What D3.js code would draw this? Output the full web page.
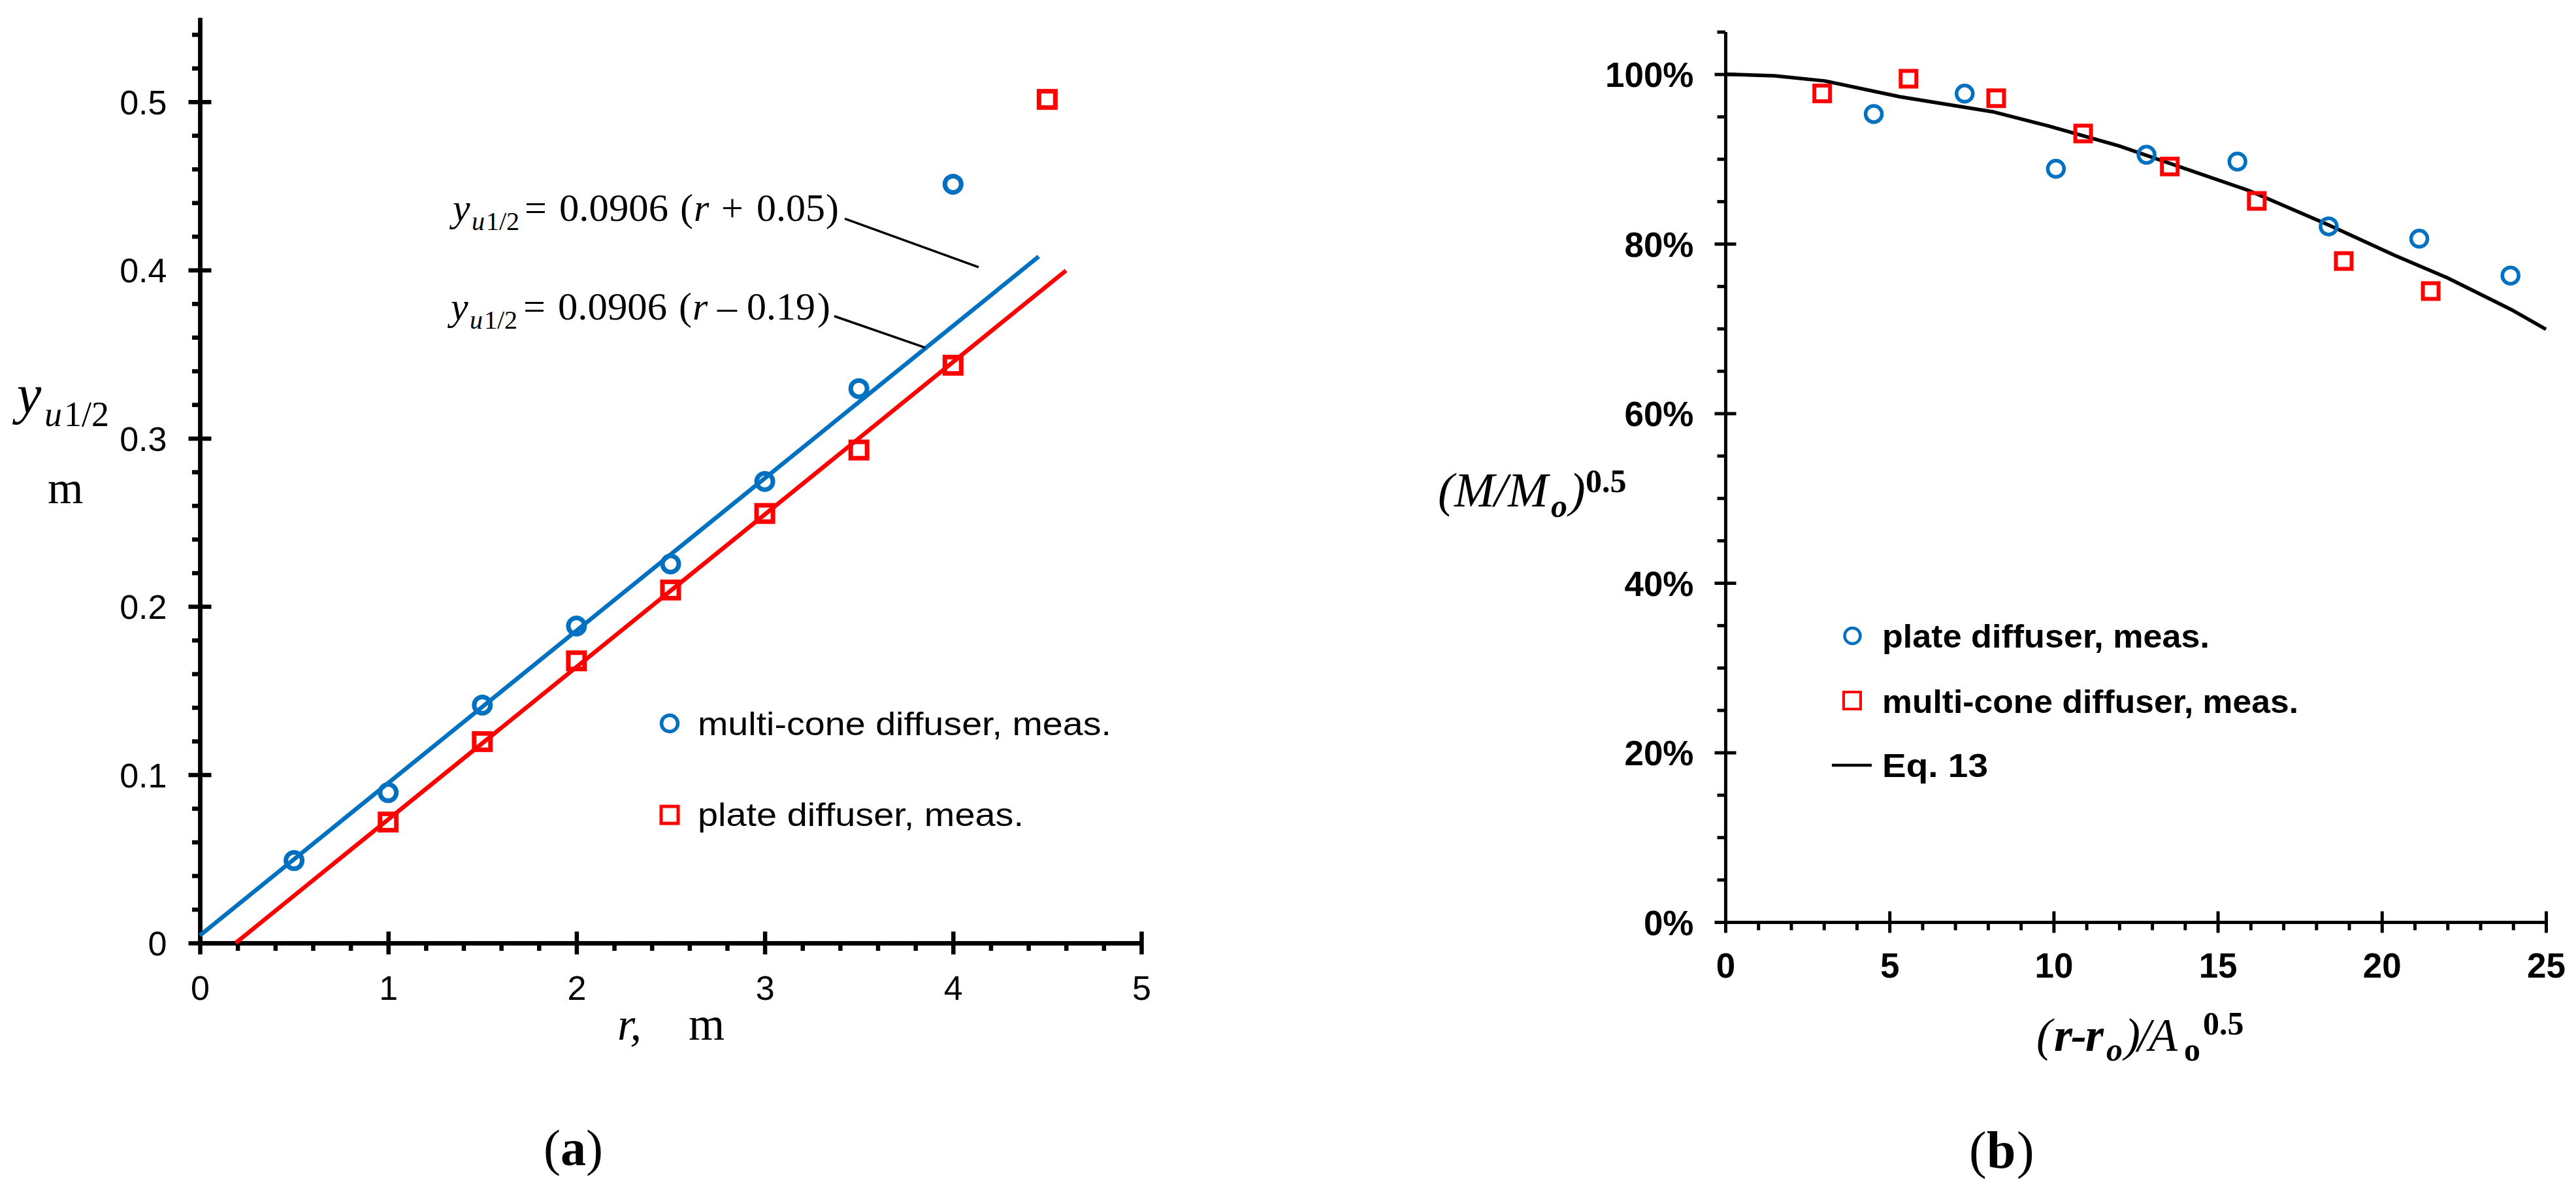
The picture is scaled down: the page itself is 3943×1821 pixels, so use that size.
<!DOCTYPE html>
<html><head><meta charset="utf-8">
<script src="https://cdnjs.cloudflare.com/ajax/libs/d3/7.8.5/d3.min.js"></script>
<style>
html,body{margin:0;padding:0;background:#fff;overflow:hidden}
svg{display:block}
text{fill:#000}
</style></head><body>
<svg id="c" width="3943" height="1821" viewBox="0 0 3943 1821"></svg>
<script>
// ---------- panel (a) data ----------
const aBlueR = [0.5,1,1.5,2,2.5,3,3.5,4];
const aBlueY = [0.049,0.0894,0.1414,0.1884,0.2253,0.2743,0.3295,0.451];
const aRedR  = [1,1.5,2,2.5,3,3.5,4,4.5];
const aRedY  = [0.0719,0.1197,0.1677,0.2098,0.2553,0.293,0.3434,0.5014];
const aBlueFitR = [0,4.455];
const aBlueFitY = [0.0045,0.408];
const aRedFitR  = [0.19,4.6];
const aRedFitY  = [0,0.3997];
const aLeader1R = [3.425,4.136];
const aLeader1Y = [0.4305,0.4017];
const aLeader2R = [3.369,3.851];
const aLeader2Y = [0.3726,0.3539];
const aXMajor = [0,1,2,3,4,5];
const aXMinor = [0.2,0.4,0.6,0.8,1.2,1.4,1.6,1.8,2.2,2.4,2.6,2.8,3.2,3.4,3.6,3.8,4.2,4.4,4.6,4.8];
const aYMajor = [0,0.1,0.2,0.3,0.4,0.5];
const aYMinor = [0.02,0.04,0.06,0.08,0.12,0.14,0.16,0.18,0.22,0.24,0.26,0.28,0.32,0.34,0.36,0.38,0.42,0.44,0.46,0.48,0.52,0.54];
const aLegend = ["multi-cone diffuser, meas.","plate diffuser, meas."];

// ---------- panel (b) data ----------
const bBlueX = [4.52,7.29,10.07,12.83,15.6,18.38,21.14,23.92];
const bBlueY = [0.953,0.977,0.8884,0.9049,0.8969,0.8205,0.8059,0.7625];
const bRedX  = [2.95,5.58,8.25,10.9,13.54,16.19,18.84,21.49];
const bRedY  = [0.9773,0.9946,0.9716,0.93,0.8911,0.8505,0.7796,0.7442];
const bCurveX = [0,1.5,3.03,5.31,8.14,9.85,12,15.97,18.4,20.38,22,23.95,25];
const bCurveY = [1,0.998,0.992,0.9734,0.9557,0.9388,0.9153,0.8624,0.8217,0.7865,0.7597,0.7222,0.6992];
const bXMajor = [0,5,10,15,20,25];
const bXMinor = [1,2,3,4,6,7,8,9,11,12,13,14,16,17,18,19,21,22,23,24];
const bYMajor = [0,0.2,0.4,0.6,0.8,1];
const bYMinor = [0.05,0.1,0.15,0.25,0.3,0.35,0.45,0.5,0.55,0.65,0.7,0.75,0.85,0.9,0.95,1.05];
const bLegend = ["plate diffuser, meas.","multi-cone diffuser, meas.","Eq. 13"];

const BLUE="#0070C0", RED="#FF0000";
const SANS="'Liberation Sans',Arial,sans-serif", SERIF="'Liberation Serif','Times New Roman',serif";
const svg=d3.select("#c");

function axes(g,o){
  const {x,y,xMajor,xMinor,yMajor,yMinor,xFmt,yFmt,sw,tLen,mLen,font,weight,xPad,yPad}=o;
  const x0=x.range()[0], y0=y.range()[0];
  const minorX=g.append("g").attr("transform",`translate(0,${y0})`)
    .call(d3.axisBottom(x).tickValues(xMinor).tickSize(mLen).tickSizeOuter(0).tickFormat(""));
  const minorY=g.append("g").attr("transform",`translate(${x0},0)`)
    .call(d3.axisLeft(y).tickValues(yMinor).tickSize(mLen).tickSizeOuter(0).tickFormat(""));
  const majorX=g.append("g").attr("transform",`translate(0,${y0})`)
    .call(d3.axisBottom(x).tickValues(xMajor).tickSize(tLen).tickSizeOuter(0).tickPadding(xPad).tickFormat(xFmt));
  majorX.selectAll(".tick line").attr("y1",-tLen);
  const majorY=g.append("g").attr("transform",`translate(${x0},0)`)
    .call(d3.axisLeft(y).tickValues(yMajor).tickSize(tLen).tickSizeOuter(0).tickPadding(yPad).tickFormat(yFmt));
  majorY.selectAll(".tick line").attr("x1",tLen);
  [minorX,minorY,majorX,majorY].forEach(a=>{
    a.selectAll("path.domain").attr("stroke","#000").attr("stroke-width",sw);
    a.selectAll(".tick line").attr("stroke","#000").attr("stroke-width",sw);
    a.selectAll("text").attr("fill","#000").attr("font-family",SANS).attr("font-size",font).attr("font-weight",weight);
  });
  majorY.selectAll("text").attr("dy","0.36em");
}
function circles(g,xs,ys,x,y,r,sw){
  g.selectAll(null).data(xs.map((d,i)=>[d,ys[i]])).join("circle")
    .attr("cx",d=>x(d[0])).attr("cy",d=>y(d[1])).attr("r",r)
    .attr("fill","none").attr("stroke",BLUE).attr("stroke-width",sw);
}
function squares(g,xs,ys,x,y,s,sw){
  g.selectAll(null).data(xs.map((d,i)=>[d,ys[i]])).join("rect")
    .attr("x",d=>x(d[0])-s/2).attr("y",d=>y(d[1])-s/2).attr("width",s).attr("height",s)
    .attr("fill","none").attr("stroke",RED).attr("stroke-width",sw);
}
function line(g,xs,ys,x,y,color,sw){
  g.append("path").datum(xs.map((d,i)=>[d,ys[i]]))
    .attr("d",d3.line().x(d=>x(d[0])).y(d=>y(d[1])))
    .attr("fill","none").attr("stroke",color).attr("stroke-width",sw);
}
// run: [string, x, baseline, size, italic, bold, textLength]
function runs(list){
  list.forEach(r=>{
    const t=svg.append("text").text(r[0]).attr("x",r[1]).attr("y",r[2]).attr("font-size",r[3])
      .attr("font-style",r[4]?"italic":"normal").attr("font-weight",r[5]?"bold":"normal")
      .attr("font-family",SERIF);
    if(r[6]) t.attr("textLength",r[6]).attr("lengthAdjust","spacingAndGlyphs");
  });
}
function legendText(s,x,y,size,bold,len){
  svg.append("text").text(s).attr("x",x).attr("y",y).attr("font-size",size)
    .attr("font-family",SANS).attr("font-weight",bold?"bold":"normal")
    .attr("textLength",len).attr("lengthAdjust","spacingAndGlyphs");
}

// ---------- panel (a) ----------
const ax=d3.scaleLinear().domain([0,5]).range([306,1747]);
const ay=d3.scaleLinear().domain([0,0.55]).range([1443,27]);
const ga=svg.append("g");
axes(ga,{x:ax,y:ay,xMajor:aXMajor,xMinor:aXMinor,yMajor:aYMajor,yMinor:aYMinor,
  xFmt:d3.format("d"),yFmt:d=>d===0?"0":d3.format(".1f")(d),sw:6.5,tLen:17.5,mLen:12,font:52,weight:"normal",xPad:33,yPad:33});
line(ga,aBlueFitR,aBlueFitY,ax,ay,BLUE,6.5);
line(ga,aRedFitR,aRedFitY,ax,ay,RED,6.5);
line(ga,aLeader1R,aLeader1Y,ax,ay,"#000",3.5);
line(ga,aLeader2R,aLeader2Y,ax,ay,"#000",3.5);
circles(ga,aBlueR,aBlueY,ax,ay,12.5,7);
squares(ga,aRedR,aRedY,ax,ay,25,7);

runs([
 ["y",26,632,84,true],["u",68,652,54,true],["1/2",98,652,54],
 ["m",73,770,70],
 ["r,",945,1591,70,true],["m",1054,1591,71],
 ["(",832,1783,78],["a",858,1783,78,false,true],[")",897,1783,78],
 ["y",693,338,60,true],["u",722,352,40,true],["1/2",744,352,40],["=",803,338,60],
 ["0.0906",856,338,60,false,false,167],["(",1041,338,60],["r",1062,338,60,true],["+",1104,338,60],["0.05",1158,338,60],[")",1264,338,60],
 ["y",690,489,60,true],["u",719,503,40,true],["1/2",741,503,40],["=",801,489,60],
 ["0.0906",854,489,60,false,false,167],["(",1039,489,60],["r",1060,489,60,true],["–",1098,489,60],["0.19",1143,489,60],[")",1251,489,60]
]);
svg.append("circle").attr("cx",1025).attr("cy",1107).attr("r",12.5).attr("fill","none").attr("stroke",BLUE).attr("stroke-width",5.5);
svg.append("rect").attr("x",1012).attr("y",1234).attr("width",26).attr("height",26).attr("fill","none").attr("stroke",RED).attr("stroke-width",5);
legendText(aLegend[0],1068,1125,50,false,633);
legendText(aLegend[1],1068,1264,50,false,499);

// ---------- panel (b) ----------
const bx=d3.scaleLinear().domain([0,25]).range([2641,3897]);
const by=d3.scaleLinear().domain([0,1.05]).range([1411,48.6]);
const gb=svg.append("g");
axes(gb,{x:bx,y:by,xMajor:bXMajor,xMinor:bXMinor,yMajor:bYMajor,yMinor:bYMinor,
  xFmt:d3.format("d"),yFmt:d3.format(".0%"),sw:5,tLen:16.5,mLen:12.5,font:53,weight:"bold",xPad:31,yPad:32});
line(gb,bCurveX,bCurveY,bx,by,"#000",5.5);
circles(gb,bBlueX,bBlueY,bx,by,12.5,5.5);
squares(gb,bRedX,bRedY,bx,by,24,6);

runs([
 ["(",2201,775,74,true],["M",2226,775,74,true],["/",2287,775,74,true],["M",2308,775,74,true],
 ["o",2374,791,50,true,true],[")",2402,775,74,true],["0.5",2427,753,50,false,true],
 ["(",3117,1608,72,true],["r",3144,1608,72,true,true],["-",3170,1608,72,true,true],["r",3192,1608,72,true,true],
 ["o",3224,1623,50,true,true],[")",3252,1608,72,true],["/",3272,1608,72,true],["A",3289,1608,72,true],
 ["o",3343,1623,50,false,true],["0.5",3372,1583,50,false,true],
 ["(",3014,1787,80],["b",3041,1787,80,false,true],[")",3087,1787,80]
]);
svg.append("circle").attr("cx",2835.5).attr("cy",973).attr("r",12).attr("fill","none").attr("stroke",BLUE).attr("stroke-width",4.5);
svg.append("rect").attr("x",2822).attr("y",1059).attr("width",26).attr("height",26).attr("fill","none").attr("stroke",RED).attr("stroke-width",4);
svg.append("line").attr("x1",2804).attr("x2",2865).attr("y1",1171).attr("y2",1171).attr("stroke","#000").attr("stroke-width",4.5);
legendText(bLegend[0],2881,991,50,true,501);
legendText(bLegend[1],2881,1091,50,true,637);
legendText(bLegend[2],2881,1189,50,true,162);
</script>
</body></html>
